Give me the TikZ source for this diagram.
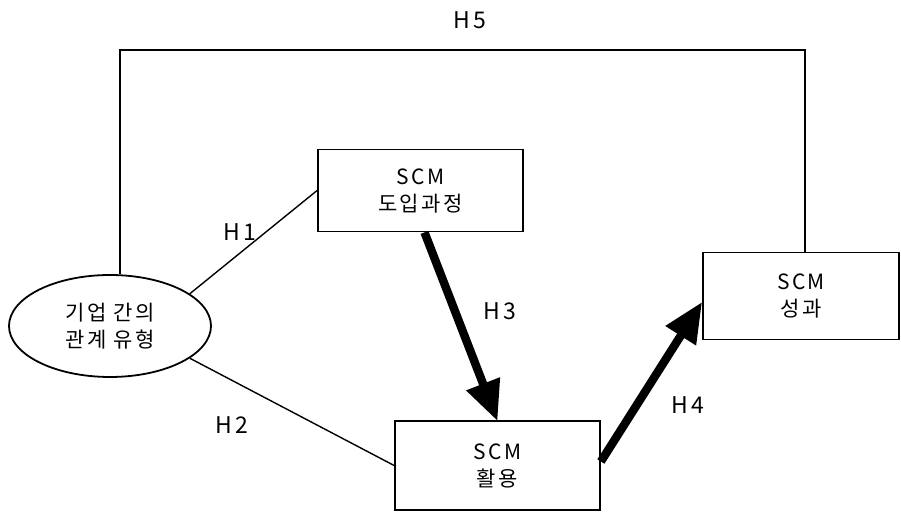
\documentclass[tikz,border=0pt]{standalone}
\usepackage{fontspec}
\setmainfont{Noto Sans CJK KR}[LetterSpace=12]
\usetikzlibrary{arrows.meta, shapes.geometric}

\begin{document}
\begin{tikzpicture}[
    x=0.5pt, y=-0.5pt,
    box/.style={
        draw,
        line width=0.9pt,
        minimum width=102.5pt,
        minimum height=41pt,
        inner sep=0pt,
        align=center,
        font=\fontsize{10.5}{13.5}\selectfont
    },
    oval/.style={box, ellipse, minimum width=101pt, minimum height=51pt},
    link/.style={line width=0.7pt},
    bigarrow/.style={line width=4.2pt, -{Triangle[length=20pt, width=17pt]}},
    hlabel/.style={font=\fontsize{11.5}{12}\selectfont, inner sep=0pt}
]
\useasboundingbox (0,0) rectangle (901,512);

% Linke Seite: Beziehungstyp
\node[oval] (rel) at (110, 326) {기업 간의\\관계 유형};

% Mitte: Einfuehrung und Nutzung
\node[box] (intro) at (420.5, 190.5) {SCM\\도입과정};
\node[box, minimum height=44.5pt] (use) at (497.5, 465.5) {SCM\\활용};

% Rechts: Leistung
\node[box, minimum width=98pt, minimum height=43.5pt] (perf) at (801, 296) {SCM\\성과};

% === VERBINDUNGEN ===

% H5: oben herum
\coordinate (h5l) at (120, 50);
\draw[link] (h5l |- rel.north) -- (h5l) -| ([xshift=2pt]perf.north);

% H1 und H2: duenne Linien
\draw[link] (rel.22) -- (intro.west);
\draw[link] (rel.-22) -- (use.west);

% H3 und H4: dicke Pfeile
\draw[bigarrow] ([xshift=2pt]intro.south) -- ([yshift=-0.5pt]use.north);
\draw[bigarrow] ([yshift=2pt]use.east) -- ([yshift=-3pt]perf.west);

% Beschriftungen
\node[hlabel] (lh1) at (240, 232) {H1};
\node[hlabel] (lh2) at (232, 425) {H2};
\node[hlabel] (lh3) at (500, 311) {H3};
\node[hlabel] (lh4) at (688, 405) {H4};
\node[hlabel] (lh5) at (470, 20) {H5};

\end{tikzpicture}
\end{document}
